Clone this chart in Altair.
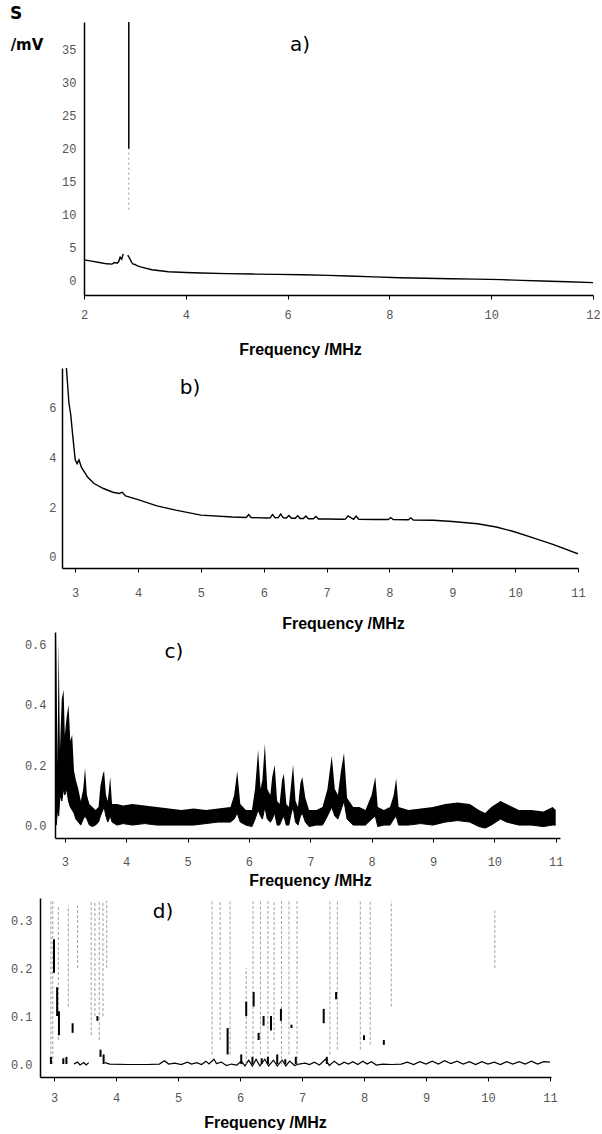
import altair as alt
import pandas as pd

# ---------------- data ----------------
# a) curve, left piece and right piece (gap where the big peak rises)
a_f1 = [2.0, 2.15, 2.3, 2.45, 2.55, 2.6, 2.65, 2.68, 2.71, 2.74, 2.77]
a_s1 = [3.2, 3.0, 2.8, 2.6, 2.55, 2.8, 2.7, 2.9, 3.6, 3.3, 4.1]
a_f2 = [2.86, 2.9, 2.93, 2.96, 3.0, 3.05, 3.13, 3.33, 3.66, 4.0, 4.3, 4.8, 5.3, 5.8,
        6.3, 6.8, 7.2, 7.7, 8.2, 8.7, 9.2, 9.7, 10.2, 10.6, 11.0, 11.5, 12.0]
a_s2 = [3.9, 3.4, 2.9, 2.6, 2.5, 2.3, 2.1, 1.7, 1.4, 1.28, 1.2, 1.12, 1.05, 1.0,
        0.95, 0.85, 0.75, 0.62, 0.5, 0.42, 0.35, 0.28, 0.2, 0.1, 0.0, -0.12, -0.25]
a_peak_f = [2.88]
a_peak_solid = [20.0, 39.2]
a_peak_faint = [10.8, 20.0]

# b) curve
b_f = [2.86, 2.9, 2.93, 2.96, 3.0, 3.03, 3.06, 3.1, 3.2, 3.3, 3.45, 3.6, 3.7, 3.75, 3.8,
       4.0, 4.3, 4.6, 5.0, 5.5, 5.72, 5.76, 5.8, 6.05, 6.1, 6.14, 6.18, 6.23, 6.27, 6.31,
       6.36, 6.4, 6.44, 6.5, 6.54, 6.58, 6.63, 6.67, 6.71, 6.79, 6.83, 6.87, 7.0, 7.25,
       7.3, 7.34, 7.43, 7.47, 7.51, 7.8, 7.98, 8.02, 8.06, 8.3, 8.34, 8.38, 8.7, 9.0, 9.4,
       9.7, 10.0, 10.3, 10.6, 11.0]
b_s = [7.6, 6.2, 5.7, 4.9, 3.9, 3.75, 3.9, 3.6, 3.2, 2.95, 2.75, 2.6, 2.55, 2.6, 2.45,
       2.3, 2.05, 1.88, 1.68, 1.6, 1.58, 1.7, 1.58, 1.56, 1.57, 1.7, 1.57, 1.58, 1.72, 1.57,
       1.56, 1.66, 1.55, 1.55, 1.65, 1.54, 1.54, 1.64, 1.53, 1.53, 1.62, 1.52, 1.52, 1.51,
       1.52, 1.65, 1.51, 1.64, 1.51, 1.5, 1.5, 1.58, 1.5, 1.49, 1.57, 1.48, 1.47, 1.42, 1.33,
       1.2, 1.0, 0.75, 0.5, 0.12]

# c) noisy spectrum: lower and upper envelope of the trace
c_f = [2.84, 2.86, 2.88, 2.90, 2.92, 2.95, 2.98, 3.00, 3.03, 3.06, 3.09, 3.12, 3.15, 3.18,
       3.22, 3.26, 3.30, 3.33, 3.36, 3.40, 3.45, 3.50, 3.55, 3.58, 3.62, 3.64, 3.67, 3.70,
       3.74, 3.77, 3.85, 3.95, 4.1, 4.3, 4.5, 4.7, 4.9, 5.1, 5.3, 5.5, 5.7, 5.76, 5.81, 5.86,
       5.95, 6.05, 6.1, 6.15, 6.19, 6.22, 6.26, 6.3, 6.35, 6.38, 6.42, 6.46, 6.5, 6.54, 6.57,
       6.61, 6.65, 6.69, 6.72, 6.76, 6.8, 6.84, 6.87, 6.92, 6.98, 7.1, 7.2, 7.28, 7.35, 7.4,
       7.45, 7.5, 7.55, 7.6, 7.7, 7.8, 7.9, 8.0, 8.06, 8.1, 8.2, 8.3, 8.36, 8.4, 8.44, 8.6,
       8.8, 9.0, 9.2, 9.4, 9.6, 9.75, 9.85, 9.95, 10.1, 10.2, 10.4, 10.6, 10.8, 10.95, 11.0]
c_lo = [0.0, 0.0, 0.05, 0.03, 0.1, 0.08, 0.12, 0.1, 0.12, 0.08, 0.06, 0.05, 0.04, 0.02,
        0.01, 0.0, 0.02, 0.03, 0.02, 0.0, -0.005, 0.0, 0.01, 0.03, 0.05, 0.06, 0.03, 0.01,
        0.03, 0.01, 0.0, 0.005, 0.0, 0.005, 0.0, 0.0, 0.0, 0.0, 0.005, 0.01, 0.01, 0.02, 0.04,
        0.01, 0.0, -0.005, 0.02, 0.05, 0.03, 0.02, 0.06, 0.02, 0.01, 0.02, 0.04, 0.0, 0.0,
        0.02, 0.03, 0.0, 0.0, 0.04, 0.06, 0.01, 0.0, 0.03, 0.04, 0.01, -0.005, 0.0, 0.0, 0.03,
        0.06, 0.03, 0.02, 0.05, 0.08, 0.02, 0.0, 0.0, 0.0, 0.02, 0.03, -0.005, 0.0, 0.0, 0.02,
        0.03, 0.0, 0.0, 0.005, 0.0, 0.01, 0.015, 0.01, -0.005, -0.01, 0.0, 0.02, 0.01, 0.0,
        0.0, -0.005, 0.0, 0.0]
c_hi = [0.02, 0.64, 0.2, 0.61, 0.25, 0.42, 0.45, 0.3, 0.36, 0.4, 0.28, 0.3, 0.18, 0.15,
        0.12, 0.08, 0.12, 0.19, 0.1, 0.07, 0.06, 0.05, 0.06, 0.13, 0.17, 0.18, 0.1, 0.08,
        0.16, 0.07, 0.07, 0.065, 0.07, 0.065, 0.06, 0.055, 0.05, 0.055, 0.05, 0.055, 0.06,
        0.1, 0.18, 0.07, 0.05, 0.05, 0.12, 0.25, 0.12, 0.15, 0.27, 0.12, 0.1, 0.16, 0.2, 0.08,
        0.07, 0.15, 0.17, 0.07, 0.06, 0.14, 0.2, 0.08, 0.06, 0.14, 0.16, 0.09, 0.05, 0.05,
        0.06, 0.12, 0.23, 0.12, 0.1, 0.18, 0.24, 0.09, 0.06, 0.06, 0.05, 0.1, 0.16, 0.06,
        0.05, 0.06, 0.1, 0.155, 0.06, 0.05, 0.055, 0.06, 0.07, 0.075, 0.07, 0.05, 0.04, 0.06,
        0.08, 0.07, 0.05, 0.05, 0.045, 0.06, 0.05]

# d) baseline trace (two pieces) and peak segments
d_f1 = [3.32, 3.38, 3.42, 3.48, 3.52, 3.56]
d_s1 = [0.0, 0.004, -0.002, 0.003, -0.002, 0.003]
d_f2 = [3.82, 3.9, 4.2, 4.5, 4.7, 4.78, 4.85, 4.95, 5.05, 5.15, 5.22, 5.3, 5.38, 5.45, 5.5,
        5.58, 5.62, 5.7, 5.78, 5.86, 5.95, 6.02, 6.08, 6.14, 6.2, 6.26, 6.32, 6.4, 6.46, 6.54,
        6.6, 6.68, 6.74, 6.8, 6.88, 6.95, 7.05, 7.12, 7.2, 7.28, 7.38, 7.44, 7.52, 7.6, 7.68,
        7.75, 7.82, 7.9, 7.98, 8.05, 8.12, 8.2, 8.3, 8.45, 8.6, 8.7, 8.8, 8.9, 9.0, 9.1, 9.2,
        9.3, 9.4, 9.5, 9.6, 9.7, 9.8, 9.9, 10.0, 10.1, 10.2, 10.3, 10.4, 10.5, 10.6, 10.7,
        10.8, 10.9, 11.0]
d_s2 = [0.003, 0.0, -0.001, -0.001, 0.0, 0.007, 0.0, 0.002, -0.001, 0.004, 0.0, 0.003,
        -0.001, 0.006, 0.0, 0.01, 0.001, 0.004, -0.003, 0.0, -0.002, 0.006, -0.004, 0.008,
        -0.004, 0.01, -0.004, 0.01, -0.004, 0.008, -0.004, 0.008, -0.004, 0.006, -0.003, 0.0,
        0.002, -0.001, 0.004, -0.002, 0.01, -0.003, 0.006, -0.002, 0.004, 0.0, 0.005, -0.001,
        0.006, 0.0, 0.005, -0.002, 0.0, -0.001, 0.0, 0.004, -0.001, 0.005, 0.0, 0.006, 0.0,
        0.007, 0.001, 0.006, 0.0, 0.005, -0.001, 0.005, 0.0, 0.004, -0.001, 0.005, 0.0, 0.005,
        0.0, 0.006, 0.0, 0.005, 0.004]
# faint off-scale peaks: frequency, bottom, top
d_faint_f = [2.95, 2.98, 3.07, 3.23, 3.38, 3.6, 3.66, 3.73, 3.79, 3.85, 5.55, 5.68, 5.84,
             6.1, 6.21, 6.33, 6.45, 6.55, 6.67, 6.79, 6.92, 7.45, 7.57, 7.94, 8.1, 8.44, 10.11]
d_faint_lo = [0.02, 0.0, 0.05, 0.12, 0.2, 0.06, 0.1, 0.05, 0.1, 0.2, 0.02, 0.05, 0.02,
              0.0, 0.0, 0.02, 0.0, 0.05, 0.0, 0.02, 0.0, 0.02, 0.03, 0.03, 0.04, 0.12, 0.2]
d_faint_hi = [0.34, 0.34, 0.33, 0.33, 0.33, 0.34, 0.34, 0.34, 0.34, 0.34, 0.34, 0.34, 0.34,
              0.2, 0.34, 0.34, 0.34, 0.34, 0.34, 0.34, 0.34, 0.34, 0.34, 0.34, 0.34, 0.34, 0.32]
# dark peak segments: frequency, bottom, top
d_dark_f = [3.0, 3.05, 3.08, 3.3, 3.7, 3.75, 5.8, 6.1, 6.22, 6.3, 6.38, 6.5, 6.66, 6.83,
            7.35, 7.55, 8.0, 8.32, 2.95, 3.15, 3.2, 3.8, 6.02, 6.2, 6.35, 6.45, 6.6, 6.73,
            6.9, 7.4]
d_dark_lo = [0.19, 0.1, 0.06, 0.065, 0.09, 0.015, 0.02, 0.1, 0.12, 0.05, 0.08, 0.07, 0.09,
             0.075, 0.085, 0.135, 0.05, 0.04, 0.0, 0.0, 0.0, 0.0, 0.0, 0.0, 0.0, 0.0, 0.0,
             0.0, 0.0, 0.0]
d_dark_hi = [0.26, 0.16, 0.11, 0.085, 0.1, 0.03, 0.075, 0.13, 0.15, 0.065, 0.1, 0.1, 0.115,
             0.082, 0.115, 0.15, 0.06, 0.05, 0.015, 0.012, 0.015, 0.02, 0.02, 0.015, 0.012,
             0.015, 0.02, 0.01, 0.015, 0.015]

# ---------------- styling helpers ----------------
LBL_FONT = "Liberation Mono"
TTL_FONT = "Liberation Sans"


def xaxis(values, lpad, ext, tpad, tx):
    return alt.Axis(values=values, title="Frequency /MHz", grid=False, ticks=True, tickSize=4,
                    tickColor="black", domainColor="black", domainWidth=1.5,
                    labelFont=LBL_FONT, labelFontSize=12, labelColor="#555",
                    labelPadding=lpad, minExtent=ext, maxExtent=ext, format="d",
                    titleFont=TTL_FONT, titleFontSize=16, titleFontWeight="bold",
                    titleColor="black", titlePadding=tpad, titleX=tx, titleAlign="center",
                    labelFlush=False)


def yaxis(values, k, fmt, lpad, ext=None):
    kw = {}
    if ext is not None:
        kw = dict(minExtent=ext, maxExtent=ext)
    return alt.Axis(values=values, title=None, grid=False, ticks=False, offset=-k,
                    domainColor="black", domainWidth=1.5, labelFont=LBL_FONT,
                    labelFontSize=12, labelColor="#555", labelPadding=lpad, format=fmt,
                    labelFlush=False, **kw)


def label(text, px, py, size=20, weight="normal"):
    return alt.Chart(pd.DataFrame({"t": [text]})).mark_text(
        font="DejaVu Sans", fontSize=size, fontWeight=weight, color="black",
        align="center", baseline="middle").encode(
        x=alt.value(px), y=alt.value(py), text="t:N")


# ---------------- panel a ----------------
Wa, Ha, ka = 553, 295, 44
xa = alt.X("f:Q", scale=alt.Scale(domain=[2, 12], range=[ka, Wa], nice=False, zero=False),
           axis=xaxis([2, 4, 6, 8, 10, 12], 10, 26, 20, 260))
ya = alt.Y("s:Q", scale=alt.Scale(domain=[-2.12, 39.2], range=[Ha, 22], nice=False, zero=False),
           axis=yaxis([0, 5, 10, 15, 20, 25, 30, 35], ka, "d", 8))
da = pd.DataFrame({"f": a_f1 + a_f2, "s": a_s1 + a_s2,
                   "g": ["l"] * len(a_f1) + ["r"] * len(a_f2)})
a_line = alt.Chart(da).mark_line(color="black", strokeWidth=1.4, clip=True).encode(
    x=xa, y=ya, detail="g:N")
a_pk1 = alt.Chart(pd.DataFrame({"f": a_peak_f, "lo": [a_peak_solid[0]], "hi": [a_peak_solid[1]]})
                  ).mark_rule(color="black", strokeWidth=1.5).encode(
    x=alt.X("f:Q"), y=alt.Y("lo:Q"), y2="hi:Q")
a_pk2 = alt.Chart(pd.DataFrame({"f": a_peak_f, "lo": [a_peak_faint[0]], "hi": [a_peak_faint[1]]})
                  ).mark_rule(color="#999", strokeWidth=1, strokeDash=[2, 3]).encode(
    x=alt.X("f:Q"), y=alt.Y("lo:Q"), y2="hi:Q")
panel_a = alt.layer(a_line, a_pk1, a_pk2,
                    label("a)", 260, 45),
                    label("S", -24, 14, 17, "bold"),
                    label("/mV", -13, 45, 15, "bold")).properties(width=Wa, height=Ha)

# ---------------- panel b ----------------
Wb, Hb, kb = 538, 211, 22
xb = alt.X("f:Q", scale=alt.Scale(domain=[2.79, 11.0], range=[kb, Wb], nice=False, zero=False),
           axis=xaxis(list(range(3, 12)), 15, 32, 15, 303))
yb = alt.Y("s:Q", scale=alt.Scale(domain=[-0.45, 7.6], range=[Hb, 11], nice=False, zero=False),
           axis=yaxis([0, 2, 4, 6], kb, "d", 6))
b_line = alt.Chart(pd.DataFrame({"f": b_f, "s": b_s})).mark_line(
    color="black", strokeWidth=1.4, clip=True).encode(x=xb, y=yb)
panel_b = alt.layer(b_line, label("b)", 150, 31)).properties(width=Wb, height=Hb)

# ---------------- panel c ----------------
Wc, Hc, kc = 520, 207, 15
xc = alt.X("f:Q", scale=alt.Scale(domain=[2.84, 11.07], range=[kc, Wc], nice=False, zero=False),
           axis=xaxis(list(range(3, 12)), 14, 30, 4, 270))
yc = alt.Y("lo:Q", scale=alt.Scale(domain=[-0.043, 0.643], range=[Hc, 1], nice=False, zero=False),
           axis=yaxis([0.0, 0.2, 0.4, 0.6], kc, ".1f", 9))
c_band = alt.Chart(pd.DataFrame({"f": c_f, "lo": c_lo, "hi": c_hi})).mark_area(
    color="black", opacity=1, fillOpacity=1, line={"color": "black", "strokeWidth": 1},
    clip=True).encode(x=xc, y=yc, y2="hi:Q")
panel_c = alt.layer(c_band, label("c)", 134, 21)).properties(width=Wc, height=Hc)

# ---------------- panel d ----------------
Wd, Hd, kd = 511, 189, 0
xd = alt.X("f:Q", scale=alt.Scale(domain=[2.774, 11.016], range=[kd, Wd], nice=False, zero=False),
           axis=xaxis(list(range(3, 12)), 11, 30, 7, 225))
yd = alt.Y("s:Q", scale=alt.Scale(domain=[-0.027, 0.346], range=[Hd, 10], nice=False, zero=False),
           axis=yaxis([0.0, 0.1, 0.2, 0.3], kd, ".1f", 8, 40))
dd = pd.DataFrame({"f": d_f1 + d_f2, "s": d_s1 + d_s2,
                   "g": ["l"] * len(d_f1) + ["r"] * len(d_f2)})
d_line = alt.Chart(dd).mark_line(color="black", strokeWidth=1.2, clip=True).encode(
    x=xd, y=yd, detail="g:N")
d_faint = alt.Chart(pd.DataFrame({"f": d_faint_f, "lo": d_faint_lo, "hi": d_faint_hi})).mark_rule(
    color="#8a8a8a", strokeWidth=1, strokeDash=[3, 2], opacity=0.8).encode(
    x="f:Q", y="lo:Q", y2="hi:Q")
d_dark = alt.Chart(pd.DataFrame({"f": d_dark_f, "lo": d_dark_lo, "hi": d_dark_hi})).mark_rule(
    color="black", strokeWidth=2).encode(x="f:Q", y="lo:Q", y2="hi:Q")
panel_d = alt.layer(d_line, d_faint, d_dark, label("d)", 123, 24)).properties(width=Wd, height=Hd)

chart = alt.vconcat(panel_a, panel_b, panel_c, panel_d, spacing=0).properties(
    padding=0, background="white"
).configure_view(stroke=None).configure_axis(labelFontWeight="normal")

chart.save("out.html", embed_options={"renderer": "svg", "actions": False})
